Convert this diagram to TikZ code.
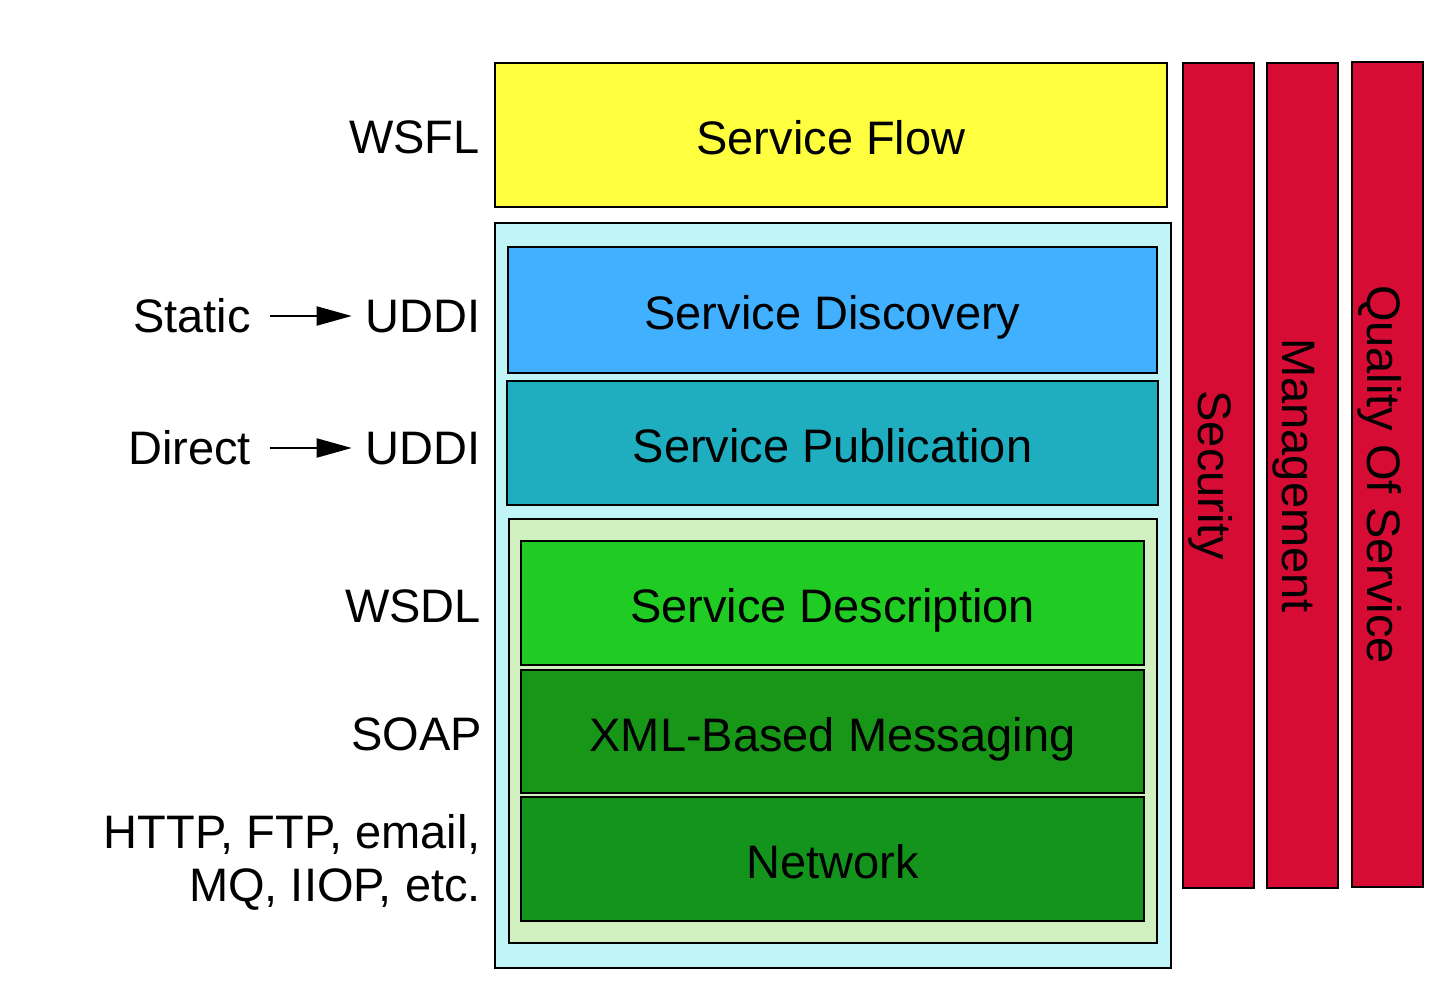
\documentclass[tikz,border=0pt]{standalone}
\usepackage{fontspec}
\setmainfont{Liberation Sans}
\usetikzlibrary{arrows.meta}
\newcommand\labfont{\fontsize{47}{52}\selectfont}
\definecolor{flowY}{HTML}{FFFF40}
\definecolor{discB}{HTML}{40B0FF}
\definecolor{pubB}{HTML}{1EAEC0}
\definecolor{descG}{HTML}{20CC24}
\definecolor{xmlG}{HTML}{189618}
\definecolor{netG}{HTML}{14941C}
\definecolor{redQ}{HTML}{D70C34}
\definecolor{cyanBg}{HTML}{C0F4F6}
\definecolor{greenBg}{HTML}{D0F0C0}
\tikzset{
  box/.style={draw=black, line width=1.6pt, inner sep=0pt, font=\labfont, text height=39.6pt, text depth=0pt},
  lbl/.style={inner sep=0pt, font=\labfont, text height=33.6pt, text depth=0pt},
  arr/.style={line width=2pt, -{Triangle[length=35pt,width=19pt]}}
}
\begin{document}
\begin{tikzpicture}[x=1pt,y=-1pt]
\useasboundingbox (0,0) rectangle (1442,990);
% top flow
\node[box, fill=flowY, minimum width=672pt, minimum height=144pt] (sf) at (831,135) {Service Flow};
% cyan container
\node[box, fill=cyanBg, line width=1.5pt, minimum width=676pt, minimum height=745pt] (cy) at (833,595.5) {};
\node[box, fill=discB, minimum width=649pt, minimum height=126pt] (sd) at (832.5,310) {Service Discovery};
\node[box, fill=pubB, minimum width=651pt, minimum height=124pt] (sp) at (832.5,443) {Service Publication};
% green container
\node[box, fill=greenBg, line width=1.5pt, minimum width=648pt, minimum height=424pt] (gr) at (833,731) {};
\node[box, fill=descG, minimum width=623pt, minimum height=124pt] (sde) at (832.5,603) {Service Description};
\node[box, fill=xmlG, minimum width=623pt, minimum height=123pt] (xm) at (832.5,731.5) {XML-Based Messaging};
\node[box, fill=netG, minimum width=623pt, minimum height=124pt] (nw) at (832.5,859) {Network};
% vertical bars
\node[box, fill=redQ, rotate=-90, minimum width=825pt, minimum height=71pt] (sec) at (1218.5,475.5) {Security};
\node[box, fill=redQ, rotate=-90, minimum width=825pt, minimum height=71pt] (mgt) at (1302.5,475.5) {Management};
\node[box, fill=redQ, rotate=-90, minimum width=825pt, minimum height=71pt] (qos) at (1387.5,474.5) {Quality Of Service};
% left labels
\node[lbl, anchor=east] (wsfl) at (480,137) {WSFL};
\node[lbl, anchor=east] (st) at (251,316) {Static};
\node[lbl, anchor=east] (u1) at (481,316) {UDDI};
\node[lbl, anchor=east] (di) at (251,448) {Direct};
\node[lbl, anchor=east] (u2) at (481,448) {UDDI};
\node[lbl, anchor=east] (wsdl) at (481,606) {WSDL};
\node[lbl, anchor=east] (soap) at (482,734) {SOAP};
\node[lbl, anchor=east] (h1) at (481,832) {HTTP, FTP, email,};
\node[lbl, anchor=east] (h2) at (481,885) {MQ, IIOP, etc.};
\draw[arr] ([xshift=19pt]st.east) -- ([xshift=-14pt]u1.west);
\draw[arr] ([xshift=19pt]di.east) -- ([xshift=-14pt]u2.west);
\end{tikzpicture}
\end{document}
